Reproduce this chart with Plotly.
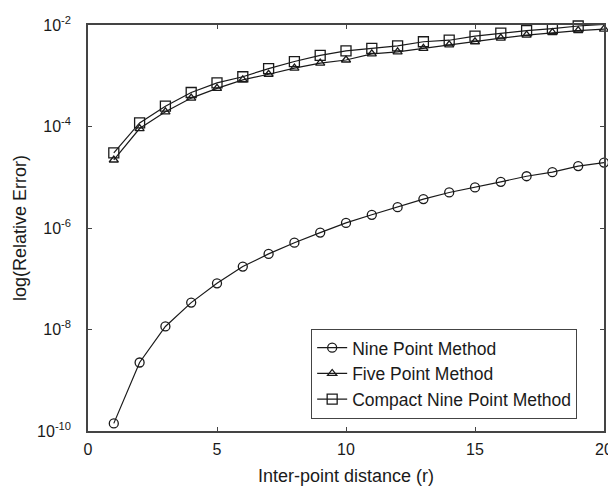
import plotly.graph_objects as go

r = list(range(1, 21))

# log10 of relative error
nine_point_log = [-9.85, -8.65, -7.94, -7.47, -7.09, -6.76, -6.51, -6.29, -6.09, -5.90,
                  -5.74, -5.59, -5.43, -5.30, -5.20, -5.09, -4.98, -4.90, -4.78, -4.71]
five_point_log = [-4.66, -4.04, -3.71, -3.44, -3.25, -3.08, -2.97, -2.85, -2.75, -2.69,
                  -2.57, -2.53, -2.46, -2.39, -2.33, -2.26, -2.20, -2.15, -2.11, -2.08]
compact_nine_log = [-4.52, -3.93, -3.60, -3.33, -3.14, -3.02, -2.86, -2.72, -2.60, -2.51,
                    -2.46, -2.41, -2.33, -2.30, -2.22, -2.16, -2.11, -2.07, -2.02, -1.99]

nine_point = [10 ** v for v in nine_point_log]
five_point = [10 ** v for v in five_point_log]
compact_nine = [10 ** v for v in compact_nine_log]

x_ticks = [0, 5, 10, 15, 20]
y_tick_exps = [-10, -8, -6, -4, -2]

FONT = "Liberation Sans, Arial, Helvetica, sans-serif"
INK = "#1a1a1a"
AX = "#444444"

fig = go.Figure()

def add(y, name, symbol, size):
    fig.add_trace(go.Scatter(
        x=r, y=y, name=name, mode="lines+markers",
        line=dict(color=INK, width=1.2),
        marker=dict(symbol=symbol, size=size, color=INK,
                    line=dict(color=INK, width=1.3)),
        cliponaxis=False,
    ))

add(nine_point, "Nine Point Method", "circle-open", 9)
add(five_point, "Five Point Method", "triangle-up-open", 8)
add(compact_nine, "Compact Nine Point Method", "square-open", 10)

fig.update_layout(
    width=616, height=486,
    margin=dict(l=80, r=20, t=17, b=63),
    paper_bgcolor="white", plot_bgcolor="white",
    font=dict(family=FONT, color=INK, size=16),
    showlegend=True,
    legend=dict(
        x=0.948, y=0.03, xanchor="right", yanchor="bottom",
        bgcolor="white", bordercolor=AX, borderwidth=1,
        font=dict(size=17.5, family=FONT, color=INK),
        tracegroupgap=0, itemwidth=30,
    ),
    xaxis=dict(
        range=[0, 20], tickvals=x_ticks, ticktext=[str(v) for v in x_ticks],
        showgrid=False, zeroline=False, automargin=False,
        showline=True, linecolor=AX, linewidth=1.5, mirror="ticks",
        ticks="inside", ticklen=4, tickcolor=AX, tickwidth=1,
        tickfont=dict(size=16, family=FONT, color=INK),
        ticklabelstandoff=3,
        title=dict(text="Inter-point distance (r)", font=dict(size=18, family=FONT, color=INK), standoff=12),
    ),
    yaxis=dict(
        type="log", range=[-10, -2],
        tickvals=[10 ** e for e in y_tick_exps],
        ticktext=[f"10<sup>{e}</sup>" for e in y_tick_exps],
        showgrid=False, zeroline=False, automargin=False,
        showline=True, linecolor=AX, linewidth=1.5, mirror="ticks",
        ticks="inside", ticklen=4, tickcolor=AX, tickwidth=1,
        tickfont=dict(size=16, family=FONT, color=INK),
        ticklabelstandoff=12,
        title=dict(text="log(Relative Error)", font=dict(size=18, family=FONT, color=INK), standoff=6),
    ),
)

fig.write_html("out.html")
